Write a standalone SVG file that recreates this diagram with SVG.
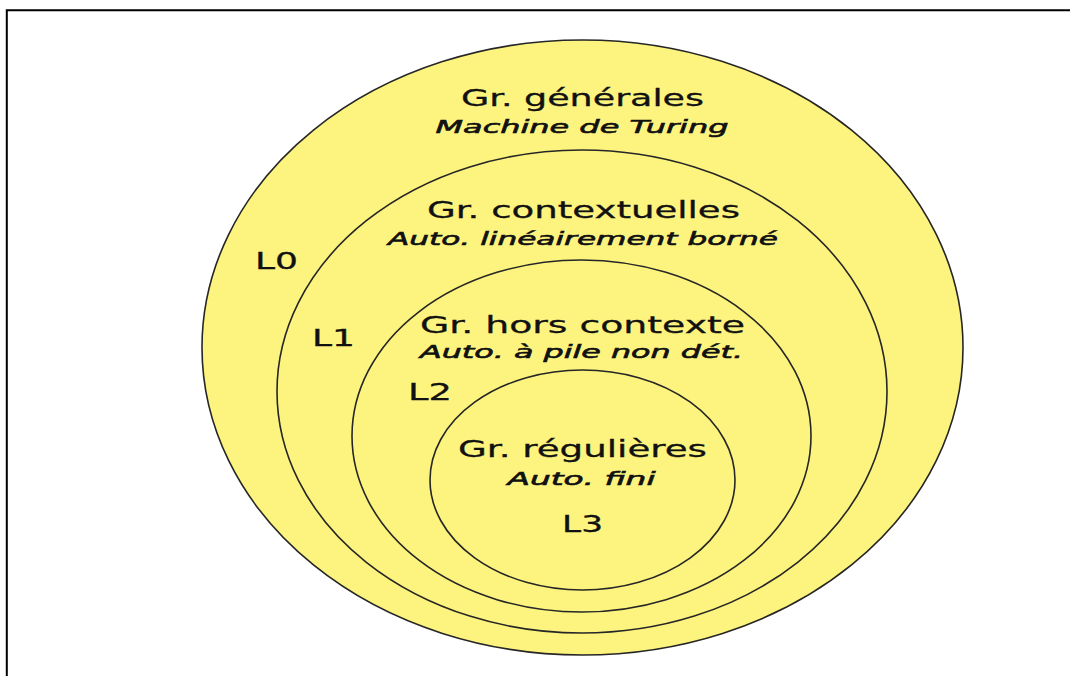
<svg xmlns="http://www.w3.org/2000/svg" width="1070" height="676" viewBox="0 0 1070 676">
<style>
.c{fill:#fdf47f;stroke:#262626;stroke-width:1.6}
.t{font-family:"DejaVu Sans",sans-serif;font-size:23px;fill:#111;stroke:#111;stroke-width:0.3;text-anchor:middle}
.s{font-family:"DejaVu Sans",sans-serif;font-size:18px;font-style:italic;fill:#111;stroke:#111;stroke-width:0.6;text-anchor:middle}
</style>
<rect x="0" y="0" width="1070" height="676" fill="#fff"/>
<path d="M6.8 690 V10.2 H1075" fill="none" stroke="#000" stroke-width="2"/>
<g id="L0">
<ellipse class="c" cx="582.5" cy="347.5" rx="380.5" ry="307.5"/>
<text class="t" x="582.5" y="106" textLength="243" lengthAdjust="spacingAndGlyphs">Gr. générales</text>
<text class="s" x="582" y="133" textLength="293" lengthAdjust="spacingAndGlyphs">Machine de Turing</text>
<text class="t" x="276.5" y="269" textLength="43" lengthAdjust="spacingAndGlyphs">L0</text>
</g>
<g id="L1">
<ellipse class="c" cx="582" cy="391.5" rx="305" ry="241.5"/>
<text class="t" x="583.5" y="218" textLength="313" lengthAdjust="spacingAndGlyphs">Gr. contextuelles</text>
<text class="s" x="583" y="245" textLength="390" lengthAdjust="spacingAndGlyphs">Auto. linéairement borné</text>
<text class="t" x="333.5" y="346" textLength="43" lengthAdjust="spacingAndGlyphs">L1</text>
</g>
<g id="L2">
<ellipse class="c" cx="581.5" cy="436" rx="229.5" ry="176"/>
<text class="t" x="582.5" y="333" textLength="325" lengthAdjust="spacingAndGlyphs">Gr. hors contexte</text>
<text class="s" x="581.5" y="358" textLength="323" lengthAdjust="spacingAndGlyphs">Auto. à pile non dét.</text>
<text class="t" x="430" y="400" textLength="44" lengthAdjust="spacingAndGlyphs">L2</text>
</g>
<g id="L3">
<ellipse class="c" cx="582.5" cy="480" rx="152.5" ry="110"/>
<text class="t" x="582.5" y="457" textLength="249" lengthAdjust="spacingAndGlyphs">Gr. régulières</text>
<text class="s" x="581.5" y="485" textLength="148" lengthAdjust="spacingAndGlyphs">Auto. fini</text>
<text class="t" x="582.5" y="532" textLength="41" lengthAdjust="spacingAndGlyphs">L3</text>
</g>
<g id="connectors"/>
</svg>
